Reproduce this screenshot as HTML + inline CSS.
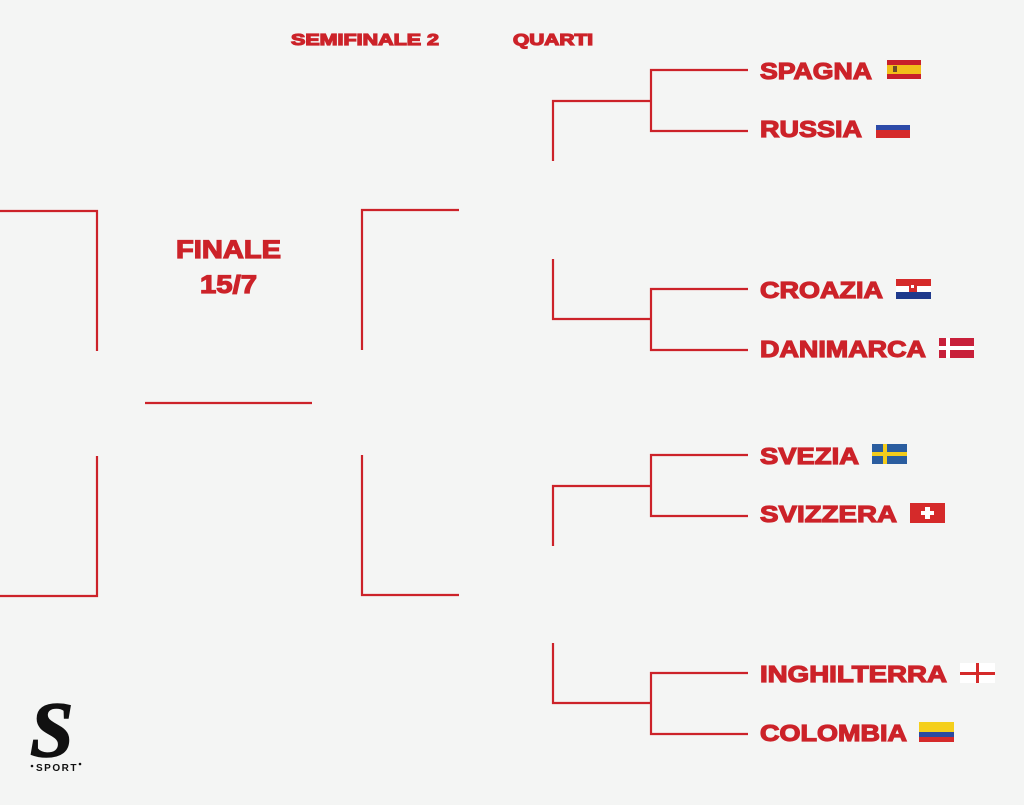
<!DOCTYPE html>
<html><head><meta charset="utf-8"><style>
html,body{margin:0;padding:0;background:#f4f5f4;}
svg{display:block}
text{font-family:"Liberation Sans",Arial,sans-serif;font-weight:bold;fill:#cc2229;stroke:#cc2229;stroke-width:1.2px}
</style></head><body>
<svg width="1024" height="805" viewBox="0 0 1024 805" xmlns="http://www.w3.org/2000/svg">
<rect width="1024" height="805" fill="#f4f5f4"/>
<g fill="none" stroke="#cc2229" stroke-width="2.2">
<path d="M748 70H651V131H748M651 101H553V161"/>
<path d="M748 289H651V350H748M651 319H553V259"/>
<path d="M748 455H651V516H748M651 486H553V546"/>
<path d="M748 673H651V734H748M651 703H553V643"/>
<path d="M459 210H362V350"/>
<path d="M362 455V595H459"/>
<path d="M0 211H97V351"/>
<path d="M97 456V596H0"/>
<path d="M145 403H312"/>
</g>
<text x="291" y="45" font-size="16" textLength="148" lengthAdjust="spacingAndGlyphs">SEMIFINALE 2</text>
<text x="513" y="45" font-size="16" textLength="80" lengthAdjust="spacingAndGlyphs">QUARTI</text>
<text x="176" y="258" font-size="25" textLength="105" lengthAdjust="spacingAndGlyphs">FINALE</text>
<text x="200" y="293" font-size="25" textLength="57" lengthAdjust="spacingAndGlyphs">15/7</text>
<g font-size="23">
<text x="760" y="79" textLength="112" lengthAdjust="spacingAndGlyphs">SPAGNA</text>
<text x="760" y="137" textLength="102" lengthAdjust="spacingAndGlyphs">RUSSIA</text>
<text x="760" y="298" textLength="123" lengthAdjust="spacingAndGlyphs">CROAZIA</text>
<text x="760" y="357" textLength="166" lengthAdjust="spacingAndGlyphs">DANIMARCA</text>
<text x="760" y="464" textLength="99" lengthAdjust="spacingAndGlyphs">SVEZIA</text>
<text x="760" y="522" textLength="137" lengthAdjust="spacingAndGlyphs">SVIZZERA</text>
<text x="760" y="682" textLength="187" lengthAdjust="spacingAndGlyphs">INGHILTERRA</text>
<text x="760" y="741" textLength="147" lengthAdjust="spacingAndGlyphs">COLOMBIA</text>
</g>
<rect x="887" y="60" width="34" height="19" fill="#c8202a"/>
<rect x="887" y="65" width="34" height="9" fill="#f1bf1a"/>
<rect x="893" y="66" width="4" height="6" fill="#6b4b2a"/>
<rect x="876" y="125" width="34" height="13" fill="#fff"/>
<rect x="876" y="125" width="34" height="5" fill="#2c4aa8"/>
<rect x="876" y="130" width="34" height="8" fill="#d52a2a"/>
<rect x="896" y="279" width="35" height="20" fill="#fff"/>
<rect x="896" y="279" width="35" height="7" fill="#d52a2a"/>
<rect x="896" y="292" width="35" height="7" fill="#1f3a8c"/>
<rect x="909" y="282" width="8" height="10" fill="#d52a2a"/>
<rect x="911" y="285" width="3" height="3" fill="#fff"/>
<rect x="939" y="338" width="35" height="20" fill="#c8203a"/>
<rect x="946" y="338" width="4" height="20" fill="#fff"/>
<rect x="939" y="346" width="35" height="4" fill="#fff"/>
<rect x="872" y="444" width="35" height="20" fill="#2a5d9f"/>
<rect x="883" y="444" width="4" height="20" fill="#f3cc1c"/>
<rect x="872" y="452" width="35" height="4" fill="#f3cc1c"/>
<rect x="910" y="503" width="35" height="20" fill="#d52a2a"/>
<rect x="925" y="507" width="5" height="12" fill="#fff"/>
<rect x="921" y="511" width="13" height="4" fill="#fff"/>
<rect x="960" y="663" width="35" height="20" fill="#fff"/>
<rect x="976" y="663" width="3" height="20" fill="#d52a2a"/>
<rect x="960" y="672" width="35" height="3" fill="#d52a2a"/>
<rect x="919" y="722" width="35" height="20" fill="#f4cf1c"/>
<rect x="919" y="732" width="35" height="5" fill="#2a4aa0"/>
<rect x="919" y="737" width="35" height="5" fill="#d52a2a"/>
<text x="30" y="756" font-size="78" style="font-family:'Liberation Serif',serif;font-style:italic;fill:#111;stroke:#111;stroke-width:1.5px">S</text>
<text x="36" y="771" font-size="10" style="fill:#111;stroke:none;letter-spacing:1.5px">SPORT</text>
<circle cx="32" cy="766" r="1.3" fill="#111"/>
<circle cx="80" cy="764" r="1.3" fill="#111"/>
</svg>
</body></html>
